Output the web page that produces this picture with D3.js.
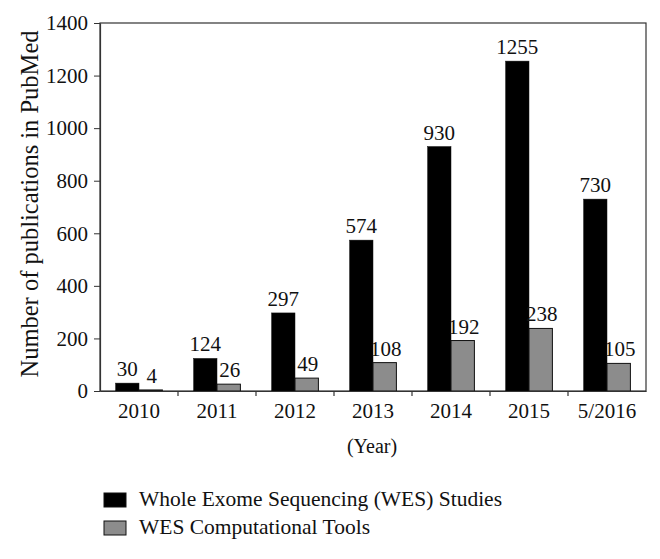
<!DOCTYPE html>
<html><head><meta charset="utf-8">
<script src="https://cdn.jsdelivr.net/npm/d3@7"></script>
<style>body{margin:0;background:#fff;} svg{display:block;} text{font-family:"Liberation Serif","DejaVu Serif",serif;fill:#111;}</style>
</head><body>
<script>
const categories = ["2010","2011","2012","2013","2014","2015","5/2016"];
const wesStudies = [30,124,297,574,930,1255,730];
const wesTools = [4,26,49,108,192,238,105];
const yTicks = [0,200,400,600,800,1000,1200,1400];
const seriesNames = ["Whole Exome Sequencing (WES) Studies","WES Computational Tools"];
const seriesColors = ["#000000","#8c8c8c"];

const W=660,H=559;
const m={l:100,r:14,t:23,b:168};
const svg=d3.select("body").append("svg").attr("width",W).attr("height",H);
const x=d3.scaleBand().domain(categories).range([m.l,W-m.r]).paddingInner(0.4).paddingOuter(0.2);
const xb=d3.scaleBand().domain(categories).range([m.l,W-m.r]);
const x1=d3.scaleBand().domain([0,1]).range([0,x.bandwidth()]);
const y=d3.scaleLinear().domain([0,1400]).range([H-m.b,m.t]);

// frame
svg.append("rect").attr("x",m.l).attr("y",m.t).attr("width",W-m.r-m.l).attr("height",H-m.b-m.t)
  .attr("fill","none").attr("stroke","#333").attr("stroke-width",1.2);

const data=categories.map((c,i)=>({c,v:[wesStudies[i],wesTools[i]]}));
const g=svg.append("g");
data.forEach(d=>{
  d.v.forEach((v,k)=>{
    const bx=x(d.c)+x1(k);
    g.append("rect").attr("x",bx).attr("y",y(v)).attr("width",x1.bandwidth()).attr("height",y(0)-y(v))
      .attr("fill",seriesColors[k]).attr("stroke","#111").attr("stroke-width",k?1:0.5);
    g.append("text").attr("x",bx+x1.bandwidth()/2+(k?1:0)).attr("y",Math.min(y(v)-7,y(0)-3)).attr("text-anchor","middle")
      .attr("font-size",21).text(v);
  });
});

// y axis
const ya=svg.append("g").attr("transform",`translate(${m.l},0)`)
  .call(d3.axisLeft(y).tickValues(yTicks).tickFormat(d3.format("d")).tickSize(6).tickSizeOuter(0).tickPadding(6));
ya.select(".domain").attr("stroke","#333").attr("stroke-width",1.2);
ya.selectAll("line").attr("stroke","#333");
ya.selectAll("text").attr("font-size",21).attr("font-family","Liberation Serif").attr("fill","#111");

// x axis
const xa=svg.append("g").attr("transform",`translate(0,${y(0)})`)
  .call(d3.axisBottom(xb).tickSize(0).tickPadding(12));
xa.select(".domain").attr("stroke","#333").attr("stroke-width",1.2);
xa.selectAll("text").attr("font-size",21).attr("font-family","Liberation Serif").attr("fill","#111");
// boundary ticks
svg.append("g").selectAll("line").data(categories.slice(1)).join("line")
  .attr("x1",d=>xb(d)).attr("x2",d=>xb(d)).attr("y1",y(0)).attr("y2",y(0)+5).attr("stroke","#333").attr("stroke-width",1.2);

svg.append("text").attr("transform",`translate(38,${204}) rotate(-90)`).attr("text-anchor","middle")
  .attr("font-size",24.5).text("Number of publications in PubMed");
svg.append("text").attr("x",372).attr("y",453).attr("text-anchor","middle").attr("font-size",20).text("(Year)");

// legend
seriesNames.forEach((n,i)=>{
  const ly=493+i*28;
  svg.append("rect").attr("x",104).attr("y",ly).attr("width",22).attr("height",14)
    .attr("fill",seriesColors[i]).attr("stroke","#111").attr("stroke-width",1);
  svg.append("text").attr("x",139).attr("y",ly+13).attr("font-size",21.5).text(n);
});
</script>
</body></html>
